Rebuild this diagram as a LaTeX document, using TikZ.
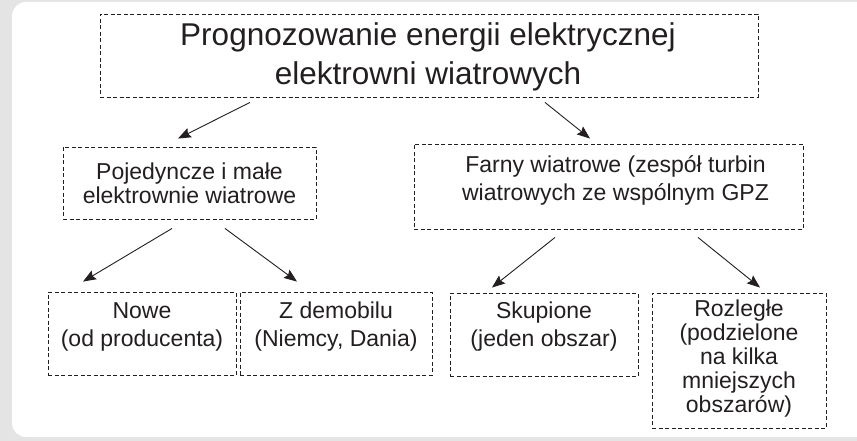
\documentclass[tikz,border=0pt]{standalone}
\usepackage{fontspec}
\setmainfont{Liberation Sans}
\usetikzlibrary{arrows.meta,calc}
\definecolor{panelgray}{HTML}{E4E4E5}
\definecolor{ink}{HTML}{231F20}

\tikzset{
  dashbox/.style={draw=ink, line width=0.9pt, dash pattern=on 4pt off 2.5pt, inner sep=0pt},
  boxtext/.style={anchor=north, inner sep=0pt, align=center, text=ink,
                  font=\fontsize{23}{#1}\selectfont},
  flow/.style={draw=ink, line width=0.9pt, -{Stealth[length=13pt,width=10pt,inset=2pt]}}
}

\begin{document}
\begin{tikzpicture}[x=1pt,y=-1pt]
\useasboundingbox (0,0) rectangle (857,441);
\clip (0,0) rectangle (857,441);

% panel background
\fill[panelgray] (0,0) rectangle (857,441);
\fill[white, rounded corners=14pt] (12,2) rectangle (890,437);

% boxes
\node[dashbox, minimum width=658pt, minimum height=83pt] (title) at (429,55.5) {};
\node[dashbox, minimum width=253pt, minimum height=72pt] (pojed) at (189.5,183) {};
\node[dashbox, minimum width=389pt, minimum height=85pt] (farny) at (608.5,186.5) {};
\node[dashbox, minimum width=188pt, minimum height=83pt] (nowe) at (142,333.5) {};
\node[dashbox, minimum width=192pt, minimum height=83pt] (demob) at (336,333.5) {};
\node[dashbox, minimum width=188pt, minimum height=83pt] (skup) at (544,334.5) {};
\node[dashbox, minimum width=174pt, minimum height=135pt] (rozl) at (739,360.5) {};

% texts
\node[boxtext=39, font=\fontsize{31.5}{39}\selectfont] (title-t) at ($(title.north)+(-1,6)$)
  {\rule{0pt}{26pt}Prognozowanie energii elektrycznej\\elektrowni wiatrowych};
\node[boxtext=24] (pojed-t) at ($(pojed.north)+(0,13.3)$)
  {\rule{0pt}{19pt}Pojedyncze i małe\\elektrownie wiatrowe};
\node[boxtext=28] (farny-t) at ($(farny.north)+(7,10)$)
  {\rule{0pt}{19pt}Farny wiatrowe (zespół turbin\\wiatrowych ze wspólnym GPZ};
\node[boxtext=28] (nowe-t) at ($(nowe.north)+(0,7.3)$)
  {\rule{0pt}{19pt}Nowe\\(od producenta)};
\node[boxtext=28] (demob-t) at ($(demob.north)+(0,7.3)$)
  {\rule{0pt}{19pt}Z demobilu\\(Niemcy, Dania)};
\node[boxtext=28] (skup-t) at ($(skup.north)+(0,6.3)$)
  {\rule{0pt}{19pt}Skupione\\(jeden obszar)};
\node[boxtext=24] (rozl-t) at ($(rozl.north)+(0,5)$)
  {\rule{0pt}{19pt}Rozległe\\(podzielone\\na kilka\\mniejszych\\obszarów)};

% connectors
\draw[flow] ($(title.south)+(-179,5)$) -- ($(pojed.north)+(-11.5,-8)$);
\draw[flow] ($(title.south)+(116,5)$) -- ($(farny.north)+(-18.5,-5)$);
\draw[flow] ($(pojed.south)+(-17.5,9)$) -- ($(nowe.north)+(-59,-10)$);
\draw[flow] ($(pojed.south)+(35.5,9)$) -- ($(demob.north)+(-39,-10)$);
\draw[flow] ($(farny.south)+(-53.5,8)$) -- ($(skup.north)+(-52,-5)$);
\draw[flow] ($(farny.south)+(89.5,8)$) -- ($(rozl.north)+(21,-5)$);
\end{tikzpicture}
\end{document}
